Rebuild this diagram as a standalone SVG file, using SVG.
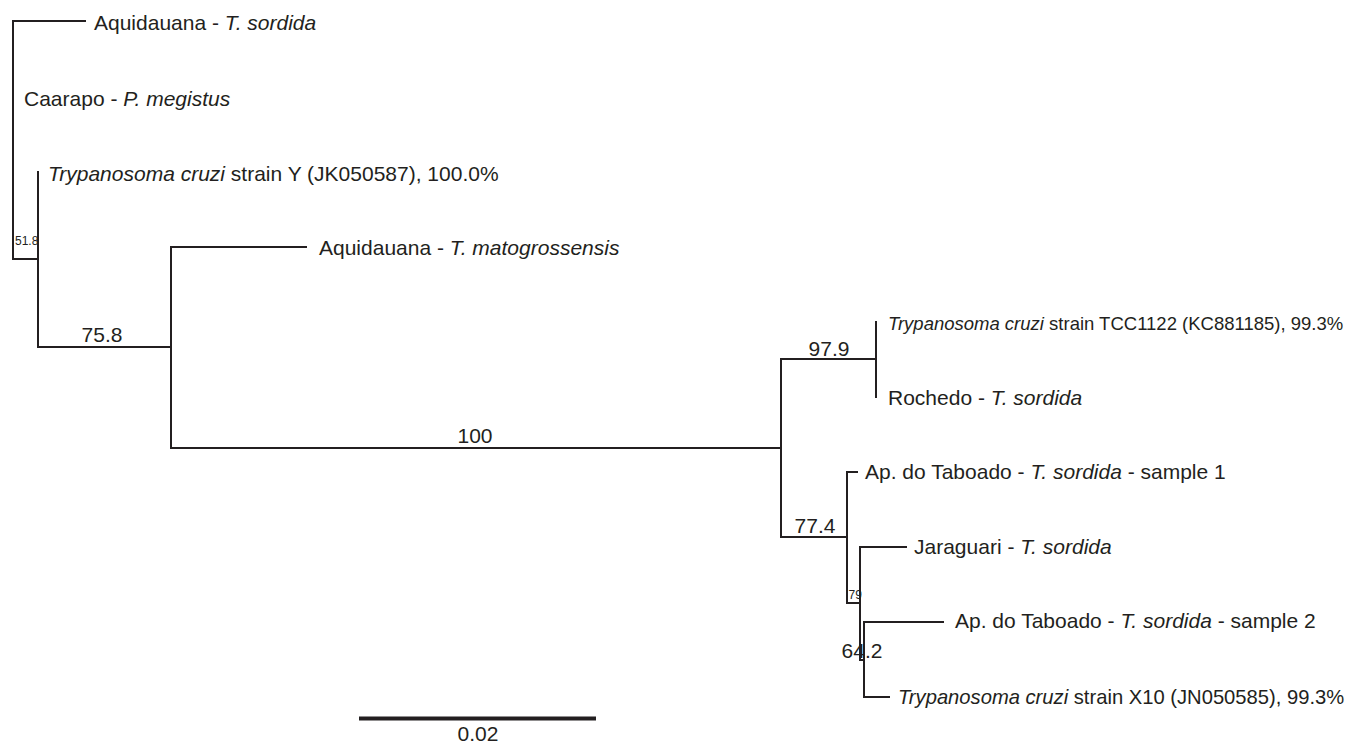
<svg xmlns="http://www.w3.org/2000/svg" width="1349" height="746" viewBox="0 0 1349 746">
<style>
text{font-family:"Liberation Sans",Arial,sans-serif;fill:#231f20}
.t{font-size:21px}
.s{font-size:12px}
.i{font-style:italic}
.e{fill:none;stroke:#231f20;stroke-width:2;stroke-linecap:square}
</style>
<rect width="1349" height="746" fill="#fff"/>
<g id="connectors">
<path class="e" d="M13,21V259M13,21H85M13,259H38"/>
<path class="e" d="M38,172V347M38,347H171"/>
<path class="e" d="M171,247V448M171,247H306M171,448H781"/>
<path class="e" d="M781,359V537M781,359H876M781,537H847"/>
<path class="e" d="M876,322V397"/>
<path class="e" d="M847,472V603M847,472H857M847,603H860"/>
<path class="e" d="M860,547V660M860,547H906M860,660H864"/>
<path class="e" d="M864,622V697M864,622H943M864,697H889"/>
<path d="M359,718.5H596" stroke="#231f20" stroke-width="4" fill="none"/>
</g>
<g id="tip-aquidauana-sordida"><text class="t" x="94" y="30">Aquidauana - <tspan class="i">T. sordida</tspan></text></g>
<g id="tip-caarapo"><text class="t" x="24" y="106">Caarapo - <tspan class="i">P. megistus</tspan></text></g>
<g id="tip-strain-y"><text class="t" x="48" y="181"><tspan class="i">Trypanosoma cruzi</tspan> strain Y (JK050587), 100.0%</text></g>
<g id="tip-aquidauana-matogrossensis"><text class="t" x="319" y="255">Aquidauana - <tspan class="i">T. matogrossensis</tspan></text></g>
<g id="tip-tcc1122"><text x="888" y="330" style="font-size:18.5px"><tspan class="i">Trypanosoma cruzi</tspan> strain TCC1122 (KC881185), 99.3%</text></g>
<g id="tip-rochedo"><text class="t" x="888" y="405">Rochedo - <tspan class="i">T. sordida</tspan></text></g>
<g id="tip-taboado-1"><text class="t" x="865" y="479">Ap. do Taboado - <tspan class="i">T. sordida</tspan> - sample 1</text></g>
<g id="tip-jaraguari"><text class="t" x="914" y="554">Jaraguari - <tspan class="i">T. sordida</tspan></text></g>
<g id="tip-taboado-2"><text class="t" x="955" y="628">Ap. do Taboado - <tspan class="i">T. sordida</tspan> - sample 2</text></g>
<g id="tip-x10"><text x="898" y="704" style="font-size:20.2px"><tspan class="i">Trypanosoma cruzi</tspan> strain X10 (JN050585), 99.3%</text></g>
<g id="support-labels">
<text class="s" x="15" y="245">51.8</text>
<text class="t" x="102" y="342" text-anchor="middle">75.8</text>
<text class="t" x="475" y="443" text-anchor="middle">100</text>
<text class="t" x="829" y="356" text-anchor="middle">97.9</text>
<text class="t" x="815" y="533" text-anchor="middle">77.4</text>
<text class="s" x="848.5" y="599">79</text>
<text class="t" x="862" y="658" text-anchor="middle">64.2</text>
</g>
<g id="scale"><text class="t" x="478" y="741" text-anchor="middle">0.02</text></g>
</svg>
